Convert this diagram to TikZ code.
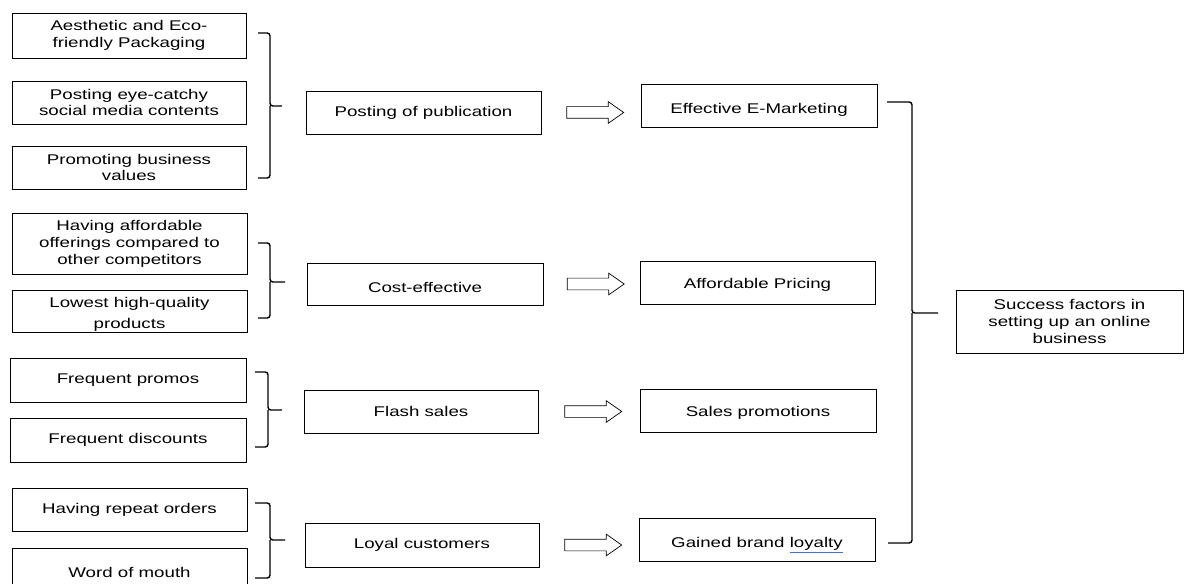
\documentclass[tikz,border=0pt]{standalone}
\usepackage{fontspec}
\setmainfont[FakeStretch=1.33]{Liberation Sans}
\usetikzlibrary{calc,shapes.arrows}
\definecolor{linkblue}{RGB}{68,114,196}

\begin{document}
\begin{tikzpicture}[x=0.025cm,y=-0.025cm,
    box/.style={draw,line width=0.6pt,align=center,inner sep=0pt,font=\fontsize{10}{12}\selectfont},
    bracket/.style={line width=1pt,rounded corners=2pt},
    hollow/.style={draw,line width=0.5pt,single arrow,single arrow head extend=0.125cm,
      single arrow tip angle=70,minimum height=1.425cm,inner xsep=0pt,inner ysep=0.1375cm}]
  \useasboundingbox (0,0) rectangle (1184,584);

  % left column
  \node[box,minimum width=5.85cm,minimum height=1.125cm] (a1) at (129,35.5) {Aesthetic and Eco-\\friendly Packaging};
  \node[box,minimum width=5.85cm,minimum height=1.075cm] (a2) at (129,102.5) {Posting eye-catchy\\social media contents};
  \node[box,minimum width=5.85cm,minimum height=1.075cm] (a3) at (129,167.5) {Promoting business\\values};
  \node[box,minimum width=5.875cm,minimum height=1.525cm] (b1) at (129.5,243.5) {Having affordable\\offerings compared to\\other competitors};
  \node[box,minimum width=5.875cm,minimum height=1.05cm] (b2) at (129.5,311) {\rule{0pt}{12pt}Lowest high-quality\\[3pt]products};
  \node[box,minimum width=5.9cm,minimum height=1.1cm] (c1) at (128,380) {Frequent promos};
  \node[box,minimum width=5.9cm,minimum height=1.1cm] (c2) at (128,440) {Frequent discounts};
  \node[box,minimum width=5.875cm,minimum height=1.075cm] (d1) at (129.5,509.5) {Having repeat orders};
  \node[box,minimum width=5.875cm,minimum height=1.2cm] (d2) at (129.5,572) {Word of mouth};

  % middle column
  \node[box,minimum width=5.875cm,minimum height=1.075cm] (m1) at (423.5,112.5) {Posting of publication};
  \node[box,minimum width=5.9cm,minimum height=1.05cm] (m2) at (425,284) {\rule{0pt}{11.5pt}Cost-effective};
  \node[box,minimum width=5.85cm,minimum height=1.075cm] (m3) at (421,411.5) {Flash sales};
  \node[box,minimum width=5.85cm,minimum height=1.1cm] (m4) at (422,545) {Loyal customers};

  % right column
  \node[box,minimum width=5.9cm,minimum height=1.075cm] (r1) at (759,105.5) {\rule{0pt}{13pt}Effective E-Marketing};
  \node[box,minimum width=5.875cm,minimum height=1.075cm] (r2) at (757.5,282.5) {\rule{0pt}{11pt}Affordable Pricing};
  \node[box,minimum width=5.9cm,minimum height=1.075cm] (r3) at (758,410.5) {\rule{0pt}{10.5pt}Sales promotions};
  \node[box,minimum width=5.9cm,minimum height=1.075cm] (r4) at (757,539.5) {\rule{0pt}{16pt}Gained brand {\color{linkblue}\underline{\color{black}loyalty}}};

  \node[box,minimum width=5.675cm,minimum height=1.575cm] (s) at (1069.5,321.5) {Success factors in\\setting up an online\\business};

  % hollow arrows
  \node[hollow] (h1) at ({$(m1.east)!0.5!(r1.west)$} |- m1.east) {};
  \node[hollow] (h2) at ({$(m2.east)!0.5!(r2.west)$} |- m2.east) {};
  \node[hollow] (h3) at ({$(m3.east)!0.5!(r3.west)$} |- m3.east) {};
  \node[hollow] (h4) at ({$(m4.east)!0.5!(r4.west)$} |- m4.east) {};

  % brackets
  \draw[bracket] (258,33) -- (270,33) -- (270,106) -- (282,106) (270,106) -- (270,178) -- (258,178);
  \draw[bracket] (258,243) -- (270,243) -- (270,282) -- (285,282) (270,282) -- (270,318) -- (258,318);
  \draw[bracket] (255,372) -- (268,372) -- (268,410) -- (282,410) (268,410) -- (268,447) -- (255,447);
  \draw[bracket] (255,503) -- (270,503) -- (270,540) -- (285,540) (270,540) -- (270,578) -- (255,578);
  \draw[bracket] (887,102) -- (912,102) -- (912,313) -- (938,313) (912,313) -- (912,543) -- (888,543);
\end{tikzpicture}
\end{document}
